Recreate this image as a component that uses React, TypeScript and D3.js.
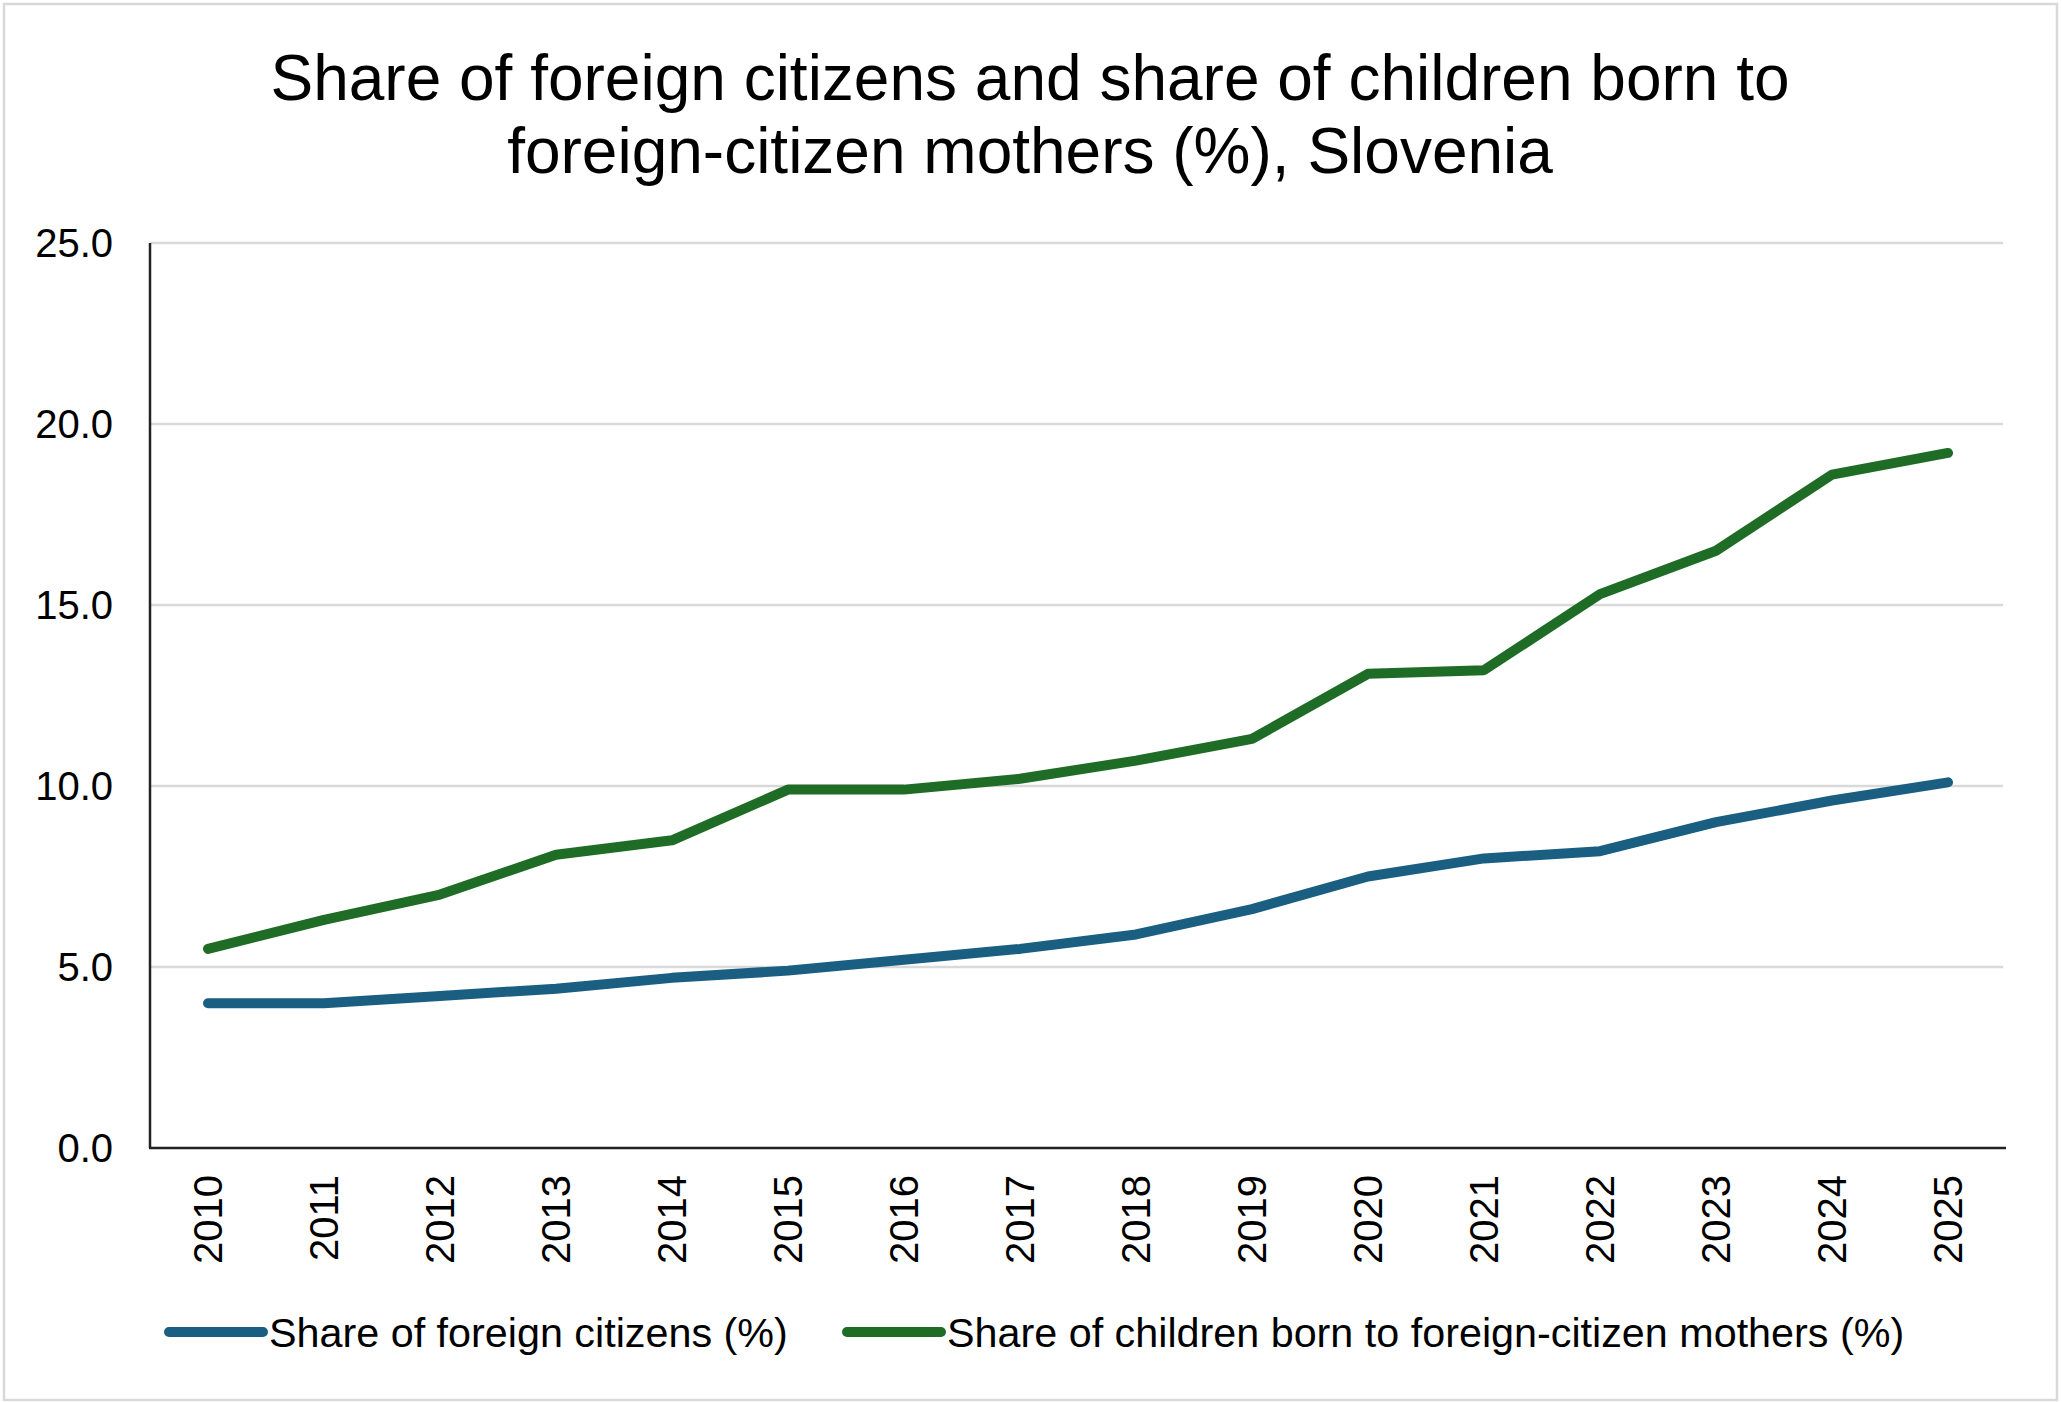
import React, { useEffect, useRef } from 'react'
import * as d3 from 'd3'

const years = ['2010', '2011', '2012', '2013', '2014', '2015', '2016', '2017', '2018', '2019', '2020', '2021', '2022', '2023', '2024', '2025']
const foreignCitizens = [4.0, 4.0, 4.2, 4.4, 4.7, 4.9, 5.2, 5.5, 5.9, 6.6, 7.5, 8.0, 8.2, 9.0, 9.6, 10.1]
const childrenForeignMothers = [5.5, 6.3, 7.0, 8.1, 8.5, 9.9, 9.9, 10.2, 10.7, 11.3, 13.1, 13.2, 15.3, 16.5, 18.6, 19.2]
const yTicks = [0, 5, 10, 15, 20, 25]
const titleLines = ['Share of foreign citizens and share of children born to', 'foreign-citizen mothers (%), Slovenia']

const series = [
  { name: 'Share of foreign citizens (%)', values: foreignCitizens, color: '#1a5f81' },
  { name: 'Share of children born to foreign-citizen mothers (%)', values: childrenForeignMothers, color: '#1e6c25' },
]

const W = 2062
const H = 1402
const FONT = '"Liberation Sans", Arial, sans-serif'

const App: React.FC = () => {
  const svgRef = useRef<SVGSVGElement | null>(null)

  useEffect(() => {
    if (!svgRef.current) return
    const svg = d3.select(svgRef.current)
    svg.selectAll('*').remove()

    const left = 150
    const right = 2006
    const top = 243
    const bottom = 1148

    const x = d3.scaleBand<string>().domain(years).range([left, right])
    const y = d3.scaleLinear().domain([0, 25]).range([bottom, top])

    // outer frame
    svg.append('rect')
      .attr('x', 4).attr('y', 4)
      .attr('width', W - 9).attr('height', H - 6)
      .attr('fill', '#fff')
      .attr('stroke', '#d9d9d9')
      .attr('stroke-width', 2.5)

    svg.append('g')
      .selectAll('text')
      .data(titleLines)
      .join('text')
      .attr('x', 1030)
      .attr('y', (_, i) => 100 + i * 73)
      .attr('text-anchor', 'middle')
      .attr('font-family', FONT)
      .attr('font-size', 64)
      .attr('fill', '#000')
      .text(d => d)

    // gridlines
    svg.append('g')
      .selectAll('line')
      .data(yTicks.filter(t => t > 0))
      .join('line')
      .attr('x1', left).attr('x2', 2003)
      .attr('y1', d => y(d)).attr('y2', d => y(d))
      .attr('stroke', '#d9d9d9')
      .attr('stroke-width', 2.5)

    svg.append('g')
      .selectAll('text')
      .data(yTicks)
      .join('text')
      .attr('x', 113)
      .attr('y', d => y(d))
      .attr('dy', '0.36em')
      .attr('text-anchor', 'end')
      .attr('font-family', FONT)
      .attr('font-size', 40)
      .text(d => d.toFixed(1))

    // axes
    svg.append('line')
      .attr('x1', left).attr('x2', left)
      .attr('y1', top).attr('y2', bottom)
      .attr('stroke', '#222').attr('stroke-width', 2.5)
    svg.append('line')
      .attr('x1', left - 1).attr('x2', right)
      .attr('y1', bottom).attr('y2', bottom)
      .attr('stroke', '#222').attr('stroke-width', 2.5)

    svg.append('g')
      .selectAll('text')
      .data(years)
      .join('text')
      .attr('transform', d => `translate(${(x(d) ?? 0) + x.bandwidth() / 2},1175) rotate(-90)`)
      .attr('text-anchor', 'end')
      .attr('dy', '0.36em')
      .attr('font-family', FONT)
      .attr('font-size', 40)
      .text(d => d)

    const line = d3.line<number>()
      .x((_, i) => (x(years[i]) ?? 0) + x.bandwidth() / 2)
      .y(d => y(d))

    series.forEach(s => {
      svg.append('path')
        .datum(s.values)
        .attr('d', line)
        .attr('fill', 'none')
        .attr('stroke', s.color)
        .attr('stroke-width', 10)
        .attr('stroke-linecap', 'round')
        .attr('stroke-linejoin', 'round')
    })

    // legend
    const legendX = [169, 847]
    const lg = svg.append('g')
      .selectAll('g')
      .data(series)
      .join('g')
      .attr('transform', (_, i) => `translate(${legendX[i]},1332)`)
    lg.append('line')
      .attr('x1', 0).attr('x2', 94)
      .attr('stroke', d => d.color)
      .attr('stroke-width', 10)
      .attr('stroke-linecap', 'round')
    lg.append('text')
      .attr('x', 100)
      .attr('dy', '0.36em')
      .attr('font-family', FONT)
      .attr('font-size', 41.3)
      .text(d => d.name)
  }, [])

  return (
    <svg
      ref={svgRef}
      width={W}
      height={H}
      style={{ position: 'absolute', left: 0, top: 0, background: '#fff' }}
    />
  )
}

export default App
